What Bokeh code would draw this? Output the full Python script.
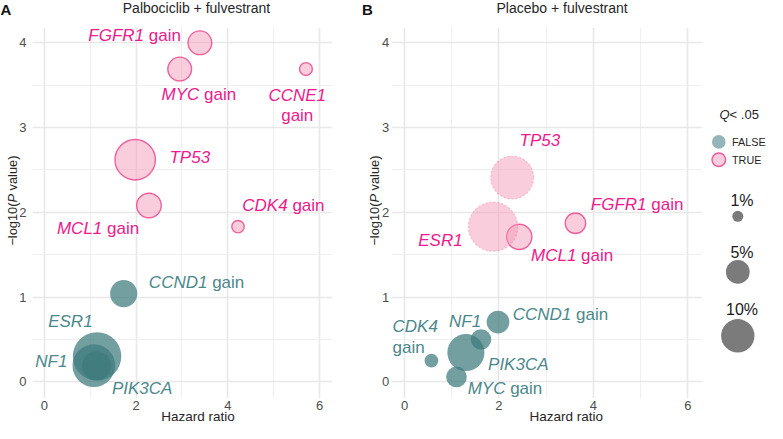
import math
from bokeh.plotting import figure
from bokeh.models import ColumnDataSource, LabelSet, FixedTicker, Range1d, Grid
from bokeh.core.properties import value
from bokeh.layouts import row, column
from bokeh.embed import file_html
from bokeh.resources import INLINE

# ---------------- data ----------------
a_genes = ["FGFR1", "MYC", "CCNE1", "TP53", "MCL1", "CDK4", "CCND1", "ESR1", "NF1", "PIK3CA"]
a_suffix = ["gain", "gain", "gain", "", "gain", "gain", "gain", "", "", ""]
a_hr = [3.39, 2.95, 5.70, 1.98, 2.28, 4.22, 1.73, 1.15, 1.08, 1.14]
a_logp = [4.00, 3.69, 3.69, 2.62, 2.08, 1.83, 1.04, 0.30, 0.19, 0.19]
a_prev = [5.0, 5.0, 1.4, 14.7, 5.4, 1.3, 6.6, 21.2, 16.4, 7.6]
a_sig = [True, True, True, True, True, True, False, False, False, False]

b_genes = ["TP53", "ESR1", "MCL1", "FGFR1", "CCND1", "NF1", "PIK3CA", "CDK4", "MYC"]
b_suffix = ["", "", "gain", "gain", "gain", "", "", "gain", "gain"]
b_hr = [2.28, 1.875, 2.43, 3.62, 1.98, 1.62, 1.30, 0.57, 1.10]
b_logp = [2.41, 1.83, 1.71, 1.87, 0.705, 0.50, 0.345, 0.25, 0.057]
b_prev = [16.7, 22.0, 5.7, 3.7, 4.6, 3.7, 12.4, 1.6, 3.8]
b_sig = [True, True, True, True, False, False, False, False, False]

titles = ["Palbociclib + fulvestrant", "Placebo + fulvestrant"]
panel_tags = ["A", "B"]
x_title = "Hazard ratio"
y_title_parts = ["\u2212log10(", "P", "value)"]
x_ticks = [0, 2, 4, 6]
x_minor = [1, 3, 5]
y_ticks = [0, 1, 2, 3, 4]
y_minor = [0.5, 1.5, 2.5, 3.5]
size_legend = [1, 5, 10]
size_legend_text = ["1%", "5%", "10%"]
sig_legend = ["FALSE", "TRUE"]

# ---------------- styles / layout ----------------
FONT = value("Liberation Sans")
PINK_TXT = "#ec1a8c"
TEAL_TXT = "#4b888b"
TEAL = "#3d7a7d"
PINK_FILL = "#f39bb9"
PINK_LINE = "#ee5a97"
DARK = "#262626"
SX, SY = 0.98, 0.9636
GENE_FS = 17
FRAME_H = 371.0

# label offsets (reference pixels): dx, dy, align, dy of 2nd line (None = one line)
a_lab = [(-19.4, -7.6, "right", None), (19.5, 26.7, "center", None),
         (-8.9, 27.3, "center", 48.3), (35, -2.4, "left", None),
         (-10, 23.4, "right", None), (4.4, -22.5, "left", None),
         (25.7, -11.7, "left", None), (-27.2, -36, "center", None),
         (-27, -4, "right", None), (15.7, 24.0, "left", None)]
b_lab = [(28.3, -38.3, "center", None), (-31, 14.3, "right", None),
         (12, 19.3, "left", None), (15.7, -20, "left", None),
         (15, -7.7, "left", None), (-16.3, -18.4, "center", None),
         (22.6, 12, "left", None), (-39.7, -35.4, "left", -13.7),
         (11.4, 12, "left", None)]
b_faint = ["TP53", "ESR1"]

CW = {' ': 278, '(': 333, ')': 333, '+': 584, '-': 333, '.': 278, '%': 889, '<': 584, '\u2212': 584,
      'A': 667, 'B': 667, 'C': 722, 'D': 722, 'E': 667, 'F': 611, 'G': 778, 'H': 722, 'I': 278,
      'K': 667, 'L': 556, 'M': 833, 'N': 722, 'O': 778, 'P': 667, 'Q': 778, 'R': 722, 'S': 667,
      'T': 611, 'U': 722, 'Y': 667,
      'a': 556, 'b': 556, 'c': 500, 'd': 556, 'e': 556, 'f': 278, 'g': 556, 'h': 556, 'i': 222,
      'l': 222, 'n': 556, 'o': 556, 'r': 333, 's': 500, 't': 278, 'u': 556, 'v': 500, 'z': 500}

FW = {}


def tw(s, fs):
    return sum(CW.get(c, 556) for c in s) * fs / 1000.0


def dot_size(pct):
    return 2 * math.sqrt(29.3 * pct + 3) * 0.97


def bare(width, height, xr, yr, **kw):
    p = figure(width=width, height=height, x_range=xr, y_range=yr, toolbar_location=None,
               output_backend="svg", title=None, x_axis_type=None, y_axis_type=None, **kw)
    p.outline_line_color = None
    return p


def make_panel(frame_w, xr, yr):
    p = bare(frame_w, int(FRAME_H), Range1d(*xr), Range1d(*yr), min_border=0)
    for dim, tk, mn in ((0, x_ticks, x_minor), (1, y_ticks, y_minor)):
        p.add_layout(Grid(dimension=dim, ticker=FixedTicker(ticks=tk, minor_ticks=mn),
                          grid_line_color="#e8e8e8", grid_line_width=1.6,
                          minor_grid_line_color="#efefef", minor_grid_line_width=1))
    FW[p.id] = frame_w
    return p


def px2dx(p, px):
    return px * SX * (p.x_range.end - p.x_range.start) / FW[p.id]


def px2dy(p, py):
    return -py * SY * (p.y_range.end - p.y_range.start) / FRAME_H


def fx(p, px):
    return p.x_range.start + px * (p.x_range.end - p.x_range.start) / FW[p.id]


def fy(p, py):
    return p.y_range.end - py * (p.y_range.end - p.y_range.start) / FRAME_H


def add_points(p, genes, hr, logp, prev, sig, faint):
    for flag in (False, True):
        for fz in (False, True):
            idx = [i for i in range(len(genes)) if sig[i] == flag and ((genes[i] in faint) == fz)]
            if not idx:
                continue
            src = ColumnDataSource(dict(x=[hr[i] for i in idx], y=[logp[i] for i in idx],
                                        s=[dot_size(prev[i]) for i in idx]))
            if not flag:
                p.scatter("x", "y", size="s", source=src, fill_color=TEAL, fill_alpha=0.72,
                          line_color=None)
            elif fz:
                p.scatter("x", "y", size="s", source=src, fill_color=PINK_FILL, fill_alpha=0.5,
                          line_color=PINK_LINE, line_alpha=0.3, line_width=1.2, line_dash="2 2")
            else:
                p.scatter("x", "y", size="s", source=src, fill_color=PINK_FILL, fill_alpha=0.5,
                          line_color=PINK_LINE, line_alpha=0.95, line_width=1.4)


def add_labels(p, genes, suffix, hr, logp, sig, lab):
    d = dict(x=[], y=[], t=[], xo=[], st=[], c=[])

    def put(x, y, t, xo, st, c):
        d["x"].append(x); d["y"].append(y); d["t"].append(t)
        d["xo"].append(xo); d["st"].append(st); d["c"].append(c)

    sp = tw(" ", GENE_FS)
    for i, g in enumerate(genes):
        dx, dy, al, dy2 = lab[i]
        c = PINK_TXT if sig[i] else TEAL_TXT
        x = hr[i] + px2dx(p, dx)
        y = logp[i] + px2dy(p, dy)
        if dy2 is None:
            wg = tw(g, GENE_FS)
            tot = wg + (sp + tw(suffix[i], GENE_FS) if suffix[i] else 0)
            start = {"left": 0, "center": -tot / 2, "right": -tot}[al]
            put(x, y, g, start, "italic", c)
            if suffix[i]:
                put(x, y, suffix[i], start + wg + sp, "normal", c)
        else:
            for s, st, yy in ((g, "italic", y), (suffix[i], "normal", logp[i] + px2dy(p, dy2))):
                w = tw(s, GENE_FS)
                start = {"left": 0, "center": -w / 2, "right": -w}[al]
                put(x, yy, s, start, st, c)
    src = ColumnDataSource(d)
    p.add_layout(LabelSet(x="x", y="y", text="t", x_offset="xo", source=src,
                          text_font=FONT, text_font_size=f"{GENE_FS}px", text_font_style="st",
                          text_color="c", text_align="left", text_baseline="middle"))


def y_strip(p, width, tick_right, title_x):
    s = bare(width, int(FRAME_H), Range1d(0, width), p.y_range, min_border=0)
    s.text(x=[tick_right] * len(y_ticks), y=y_ticks, text=[str(t) for t in y_ticks],
           text_font=FONT, text_font_size="13px", text_color="#4d4d4d",
           text_align="right", text_baseline="middle")
    fs = 12.8
    styles = ["normal", "italic", "normal"]
    gaps = [0, 0, tw(" ", fs)]
    tot = sum(tw(t, fs) for t in y_title_parts) + sum(gaps)
    unit = (p.y_range.end - p.y_range.start) / FRAME_H
    yy = fy(p, 173.1) - tot / 2 * unit
    for t, st, gp in zip(y_title_parts, styles, gaps):
        yy += gp * unit
        s.text(x=[title_x], y=[yy], text=[t], angle=math.pi / 2, text_font=FONT,
               text_font_size=f"{fs}px", text_font_style=st, text_color=DARK,
               text_align="left", text_baseline="middle")
        yy += tw(t, fs) * unit
    return s


def x_strip(p, width, bl, br, label_px):
    s = bare(width, 25, p.x_range, Range1d(0, 25), min_border_left=bl, min_border_right=br,
             min_border_top=0, min_border_bottom=0)
    s.text(x=x_ticks, y=[18.3] * len(x_ticks), text=[str(t) for t in x_ticks],
           text_font=FONT, text_font_size="13px", text_color="#4d4d4d",
           text_align="center", text_baseline="middle")
    s.text(x=[fx(p, label_px)], y=[7.2], text=[x_title], text_font=FONT, text_font_size="13.5px",
           text_color=DARK, text_align="center", text_baseline="middle")
    return s


# ---------------- panels ----------------
pA = make_panel(300, (-0.256, 6.278), (-0.197, 4.18))
add_points(pA, a_genes, a_hr, a_logp, a_prev, a_sig, [])
add_labels(pA, a_genes, a_suffix, a_hr, a_logp, a_sig, a_lab)

pB = make_panel(311, (-0.276, 6.311), (-0.197, 4.18))
add_points(pB, b_genes, b_hr, b_logp, b_prev, b_sig, b_faint)
add_labels(pB, b_genes, b_suffix, b_hr, b_logp, b_sig, b_lab)

ylA = y_strip(pA, 32, 26.1, 11.8)
ylB = y_strip(pB, 59, 56.7, 42.0)
xlA = x_strip(pA, 360, 32, 28, 165.5)
xlB = x_strip(pB, 345, 31, 3, 174.7)

# ---------------- top strip: tags and titles ----------------
top = bare(767, 27, Range1d(0, 767), Range1d(0, 27), min_border=0)
top.text(x=[196, 561.6], y=[20, 20], text=titles, text_font=FONT, text_font_size="14px",
         text_color=DARK, text_align="center", text_baseline="middle")
top.text(x=[0, 361.5], y=[18.3, 18.3], text=panel_tags, text_font=FONT, text_font_size="15px",
         text_font_style="bold", text_color="#111111", text_align="left", text_baseline="middle")

# ---------------- legend ----------------
pL = bare(65, int(FRAME_H), Range1d(0, 65), Range1d(0, FRAME_H), min_border=0)
pL.text(x=[17], y=[284.3], text=["Q"], text_font=FONT, text_font_size="13px",
        text_font_style="italic", text_color=DARK, text_baseline="middle")
pL.text(x=[17 + tw("Q", 13)], y=[284.3], text=["<"], text_font=FONT, text_font_size="13px",
        text_color=DARK, text_baseline="middle")
pL.text(x=[17 + tw("Q< ", 13)], y=[284.3], text=[".05"], text_font=FONT, text_font_size="13px",
        text_color=DARK, text_baseline="middle")
pL.scatter([16.3], [256.6], size=13.6, fill_color=TEAL, fill_alpha=0.55, line_color=None)
pL.scatter([16.3], [238.7], size=13.6, fill_color=PINK_FILL, fill_alpha=0.5,
           line_color=PINK_LINE, line_width=1.4)
pL.text(x=[29.5, 29.5], y=[256.6, 238.7], text=sig_legend, text_font=FONT,
        text_font_size="10.8px", text_color=DARK, text_baseline="middle")
pL.scatter([35.3] * 3, [182.2, 126.6, 62.7], size=[dot_size(v) for v in size_legend],
           fill_color="#7b7b7b", line_color=None)
pL.text(x=[39.5] * 3, y=[197.6, 145.8, 88.7], text=size_legend_text, text_font=FONT,
        text_font_size="16px", text_color="#1a1a1a", text_align="center", text_baseline="middle")

layout = column(top, row(ylA, pA, ylB, pB, pL), row(xlA, xlB))
open("out.html", "w").write(file_html(layout, INLINE))
